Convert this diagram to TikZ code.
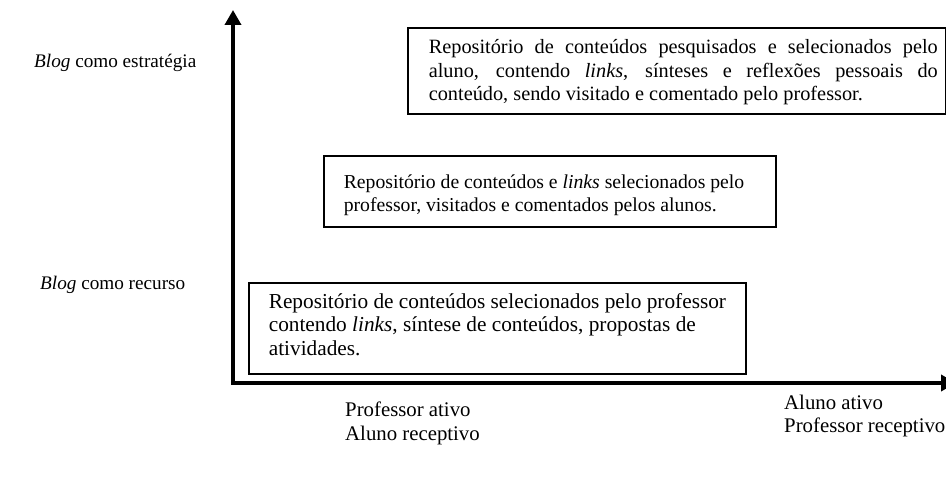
\documentclass[tikz,border=0pt]{standalone}
\usepackage{fontspec}
\setmainfont{Liberation Serif}
\usetikzlibrary{arrows.meta}

% text block inside a box: left padding, width, right padding
\newcommand{\miolo}[4]{\hspace*{#1}\begin{minipage}{#2}#4\end{minipage}\hspace*{#3}}

\tikzset{
  caixa/.style={draw, line width=1.6pt, anchor=north west, inner sep=0pt},
  eixo/.style={line width=3.6pt, line join=miter},
  ponta/.tip={Triangle[width=16pt,length=15pt]},
  rotulo/.style={anchor=west, align=left, inner sep=0pt,
    font=\fontsize{20.8}{23.5}\selectfont},
  lateral/.style={rotulo, font=\fontsize{19.2}{22}\selectfont},
}

\begin{document}
\begin{tikzpicture}[x=1pt,y=-1pt]
  \useasboundingbox (0,0) rectangle (946,484);

  % axes
  \coordinate (origem) at (233,383);
  \coordinate (topo) at (233,10);
  \coordinate (fim) at (956,383);
  \draw[eixo, ponta-ponta] (topo) -- (origem) -- (fim);

  % boxes
  \node[caixa, minimum height=86pt, font=\fontsize{20.3}{23.5}\selectfont] (estrategia) at (407,27)
    {\miolo{21pt}{509pt}{8pt}{\vspace*{3pt}
     Repositório de conteúdos pesquisados e selecionados pelo\linebreak
     aluno, contendo \textit{links}, sínteses e reflexões pessoais do\linebreak
     conteúdo, sendo visitado e comentado pelo professor.}};
  \node[caixa, minimum height=71pt, font=\fontsize{19.7}{23}\selectfont] (meio) at (323,155)
    {\miolo{20pt}{422pt}{10pt}{\vspace*{8pt}\raggedright
     Repositório de conteúdos e \textit{links} selecionados pelo\\
     professor, visitados e comentados pelos alunos.}};
  \node[caixa, minimum height=91pt, font=\fontsize{21.3}{23.5}\selectfont] (recurso) at (248,282)
    {\miolo{20pt}{474pt}{3pt}{\raggedright
     Repositório de conteúdos selecionados pelo professor\\
     contendo \textit{links}, síntese de conteúdos, propostas de\\
     atividades.\par\vspace*{8pt}}};

  % labels
  \node[lateral] (blogest) at (34,63) {\textit{Blog} como estratégia};
  \node[lateral] (blogrec) at (40,285) {\textit{Blog} como recurso};
  \node[rotulo] (profativo) at (345,423.5) {Professor ativo\\Aluno receptivo};
  \node[rotulo] (alunoativo) at (784,416) {Aluno ativo\\Professor receptivo};
\end{tikzpicture}
\end{document}
